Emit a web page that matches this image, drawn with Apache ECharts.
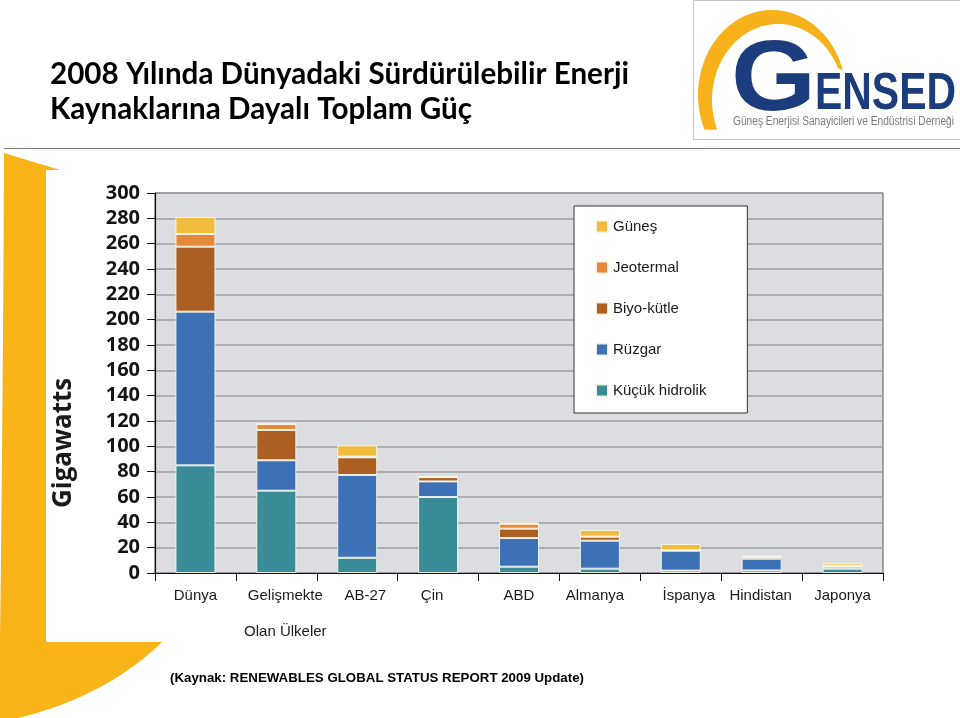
<!DOCTYPE html>
<html>
<head>
<meta charset="utf-8">
<script src="https://cdn.jsdelivr.net/npm/echarts@6/dist/echarts.min.js"></script>
<style>html,body{margin:0;padding:0;background:#fff;}#c{width:960px;height:718px;}</style>
</head>
<body>
<div id="c"></div>
<script>
// ---- data ----
const categories = ['Dünya', 'Gelişmekte\nOlan Ülkeler', 'AB-27', 'Çin', 'ABD', 'Almanya', 'İspanya', 'Hindistan', 'Japonya'];
const seriesNames = ['Küçük hidrolik', 'Rüzgar', 'Biyo-kütle', 'Jeotermal', 'Güneş'];
const hydro   = [85, 65, 12, 60, 5, 3.4, 1.9, 2, 3.4];
const wind    = [121.3, 24, 65.4, 12.3, 22.6, 22.1, 15.7, 9.3, 1.6];
const biomass = [51.3, 23.9, 13.9, 3.4, 7.4, 3.2, 0.3, 1.5, 0.3];
const geo     = [10, 4.7, 0.6, 0, 3.8, 0, 0, 0, 0.5];
const solar   = [13.4, 0, 8.8, 1.0, 1.2, 5.3, 5.0, 0.9, 2.0];
const yTicks = { min: 0, max: 300, interval: 20 };
const titleLines = ['2008 Yılında Dünyadaki Sürdürülebilir Enerji', 'Kaynaklarına Dayalı Toplam Güç'];
const yAxisTitle = 'Gigawatts';
const sourceText = '(Kaynak: RENEWABLES GLOBAL STATUS REPORT 2009 Update)';
const logoSub = 'Güneş Enerjisi Sanayicileri ve Endüstrisi Derneği';

// layout only: horizontal nudge of each category label (px)
const labelShift = [0, 9, 8, -6, 0, -5, 8, -1, 0];

const colors = { 'Küçük hidrolik': '#3a8c98', 'Rüzgar': '#3d71b6', 'Biyo-kütle': '#ab5f23', 'Jeotermal': '#e58a3a', 'Güneş': '#f1bb3d' };
const values = [hydro, wind, biomass, geo, solar];

const ctx = document.createElement('canvas').getContext('2d');
function fit(text, font, target) { ctx.font = font; return target / ctx.measureText(text).width; }

function quad(p0, c, p1, n) {
  const pts = [];
  for (let i = 0; i <= n; i++) {
    const t = i / n, u = 1 - t;
    pts.push([u * u * p0[0] + 2 * u * t * c[0] + t * t * p1[0], u * u * p0[1] + 2 * u * t * c[1] + t * t * p1[1]]);
  }
  return pts;
}
function arcPts(cx, cy, rx, ry, d0, d1, n) {
  const pts = [];
  for (let i = 0; i <= n; i++) {
    const t = (d0 + (d1 - d0) * i / n) * Math.PI / 180;
    pts.push([cx + rx * Math.cos(t), cy + ry * Math.sin(t)]);
  }
  return pts;
}
const yellowShape = [[4, 153], [60, 170], [60, 642], [162, 642]]
  .concat(quad([162, 642], [105, 697], [18, 718], 24))
  .concat([[0, 718], [0, 640]])
  .concat(quad([0, 640], [3, 400], [4, 153], 16));
const logoArc = arcPts(772, 95, 74, 85, 156, 343, 60).concat(arcPts(778, 100, 66, 76, 335, 157, 60));

const F_TITLE = '700 30px Lato';
const F_GIGA = '700 27px "Open Sans"';
const F_G = '700 100px "Liberation Sans"';
const F_ENSED = '700 52px "Liberation Sans"';
const F_SUB = '400 12px "Liberation Sans"';
const F_SRC = '700 13px "Liberation Sans"';

const chart = echarts.init(document.getElementById('c'), null, { renderer: 'canvas' });

const graphics = [
  { type: 'polygon', z: -20, shape: { points: yellowShape }, style: { fill: '#f8b418' } },
  { type: 'rect', z: -10, shape: { x: 46, y: 170, width: 846, height: 472 }, style: { fill: '#ffffff' } },
  { type: 'line', shape: { x1: 4, y1: 148.5, x2: 960, y2: 148.5 }, style: { stroke: '#7f7f7f', lineWidth: 1 } },
  { type: 'text', x: 50, y: 74, scaleX: fit(titleLines[0], F_TITLE, 579), style: { text: titleLines[0], font: F_TITLE, fill: '#000', textVerticalAlign: 'middle' } },
  { type: 'text', x: 50, y: 109, scaleX: fit(titleLines[1], F_TITLE, 422), style: { text: titleLines[1], font: F_TITLE, fill: '#000', textVerticalAlign: 'middle' } },
  { type: 'rect', z: 4, shape: { x: 693.5, y: 0.5, width: 270, height: 139 }, style: { fill: '#fff', stroke: '#c6c6c6', lineWidth: 1 } },
  { type: 'polygon', z: 5, shape: { points: logoArc }, style: { fill: '#f7b21b' } },
  { type: 'text', z: 6, x: 731, y: 82, scaleX: fit('G', F_G, 85), style: { text: 'G', font: F_G, fill: '#1c3d7d', textVerticalAlign: 'middle' } },
  { type: 'text', z: 6, x: 815, y: 95, scaleX: fit('ENSED', F_ENSED, 141), style: { text: 'ENSED', font: F_ENSED, fill: '#1c3d7d', textVerticalAlign: 'middle' } },
  { type: 'text', z: 6, x: 733, y: 122, scaleX: fit(logoSub, F_SUB, 221), style: { text: logoSub, font: F_SUB, fill: '#7b7b7b', textVerticalAlign: 'middle' } },
  { type: 'text', x: 63, y: 443, rotation: Math.PI / 2, scaleX: fit(yAxisTitle, F_GIGA, 130), style: { text: yAxisTitle, font: F_GIGA, fill: '#1a1a1a', textAlign: 'center', textVerticalAlign: 'middle' } },
  { type: 'text', x: 170, y: 678, scaleX: fit(sourceText, F_SRC, 414), style: { text: sourceText, font: F_SRC, fill: '#000', textVerticalAlign: 'middle' } }
];

const xData = categories.map((c, i) => {
  const s = labelShift[i];
  return { value: c, textStyle: { padding: s >= 0 ? [0, 0, 0, 2 * s] : [0, -2 * s, 0, 0] } };
});

const option = {
  animation: false,
  backgroundColor: 'transparent',
  graphic: { elements: graphics },
  legend: {
    data: seriesNames.slice().reverse(),
    orient: 'vertical',
    left: 574, top: 206,
    backgroundColor: '#fff',
    borderColor: '#333', borderWidth: 1,
    padding: [13, 41, 15, 21],
    itemWidth: 12, itemHeight: 12, itemGap: 26,
    icon: 'rect', selectedMode: false,
    textStyle: { fontFamily: '"Liberation Sans", Arial', fontSize: 15, color: '#1a1a1a' }
  },
  grid: {
    left: 155, right: 77, top: 193, bottom: 145,
    show: true, backgroundColor: '#dcdde1', borderColor: '#555', borderWidth: 1
  },
  xAxis: {
    type: 'category', data: xData,
    axisLine: { lineStyle: { color: '#111', width: 1.2 } },
    axisTick: { show: true, length: 8, lineStyle: { color: '#111' } },
    axisLabel: {
      margin: 14, interval: 0, color: '#1a1a1a', fontFamily: '"Liberation Sans", Arial', fontSize: 15, lineHeight: 18,
      formatter: v => { const p = v.split('\n'); return p.length > 1 ? p[0] + '\n{b|' + p[1] + '}' : v; },
      rich: { b: { lineHeight: 54, fontSize: 15, fontFamily: '"Liberation Sans", Arial', color: '#1a1a1a', verticalAlign: 'middle' } }
    }
  },
  yAxis: {
    type: 'value', min: yTicks.min, max: yTicks.max, interval: yTicks.interval,
    axisLine: { show: true, lineStyle: { color: '#111', width: 1.2 } },
    axisTick: { show: true, length: 8, lineStyle: { color: '#111' } },
    splitLine: { lineStyle: { color: '#9d9ea2', width: 1.5 } },
    axisLabel: { margin: 15, color: '#141414', fontFamily: '"Open Sans"', fontWeight: 700, fontSize: 20 }
  },
  series: seriesNames.map((n, i) => ({
    name: n, type: 'bar', stack: 'total', barWidth: 40,
    data: values[i],
    itemStyle: { color: colors[n], borderColor: 'rgba(250,248,235,0.9)', borderWidth: 1 }
  }))
};
chart.setOption(option);
</script>
</body>
</html>
